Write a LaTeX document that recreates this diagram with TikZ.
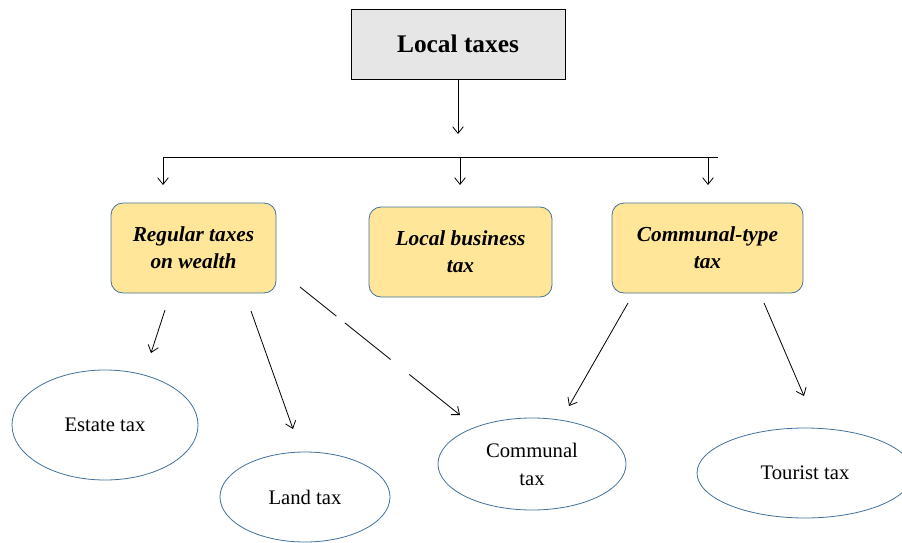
\documentclass[tikz,border=0pt]{standalone}
\usepackage{fontspec}
\setmainfont{Liberation Serif}
\usetikzlibrary{shapes.geometric,arrows.meta}
\definecolor{boxyellow}{HTML}{FFE699}
\definecolor{boxedge}{HTML}{41719C}
\definecolor{topgray}{HTML}{E6E6E6}
\tikzset{
  topbox/.style={draw=black, fill=topgray, line width=0.6pt, minimum width=214*0.75pt, minimum height=70*0.75pt, inner sep=0pt, font=\fontsize{19}{22}\selectfont\bfseries},
  catbox/.style={draw=boxedge, fill=boxyellow, line width=0.6pt, rounded corners=9pt, minimum height=90*0.75pt, inner sep=0pt, align=center, font=\fontsize{16}{20}\selectfont\bfseries\itshape},
  leaf/.style={ellipse, draw=boxedge, line width=0.6pt, inner sep=0pt, align=center, font=\fontsize{15.5}{21}\selectfont},
  arr/.style={line width=0.6pt, -{Straight Barb[length=5pt,width=8pt]}},
  plain/.style={line width=0.6pt}
}
\begin{document}
\begin{tikzpicture}[x=0.75pt,y=-0.75pt]
\useasboundingbox (0,0) rectangle (902,542);
% top
\node[topbox] (top) at (458,44) {Local taxes};
% categories
\node[catbox, minimum width=165*0.75pt] (reg) at (193.5,248) {Regular taxes\\on wealth};
\node[catbox, minimum width=183*0.75pt] (bus) at (460.5,252) {Local business\\tax};
\node[catbox, minimum width=191*0.75pt] (com) at (707.5,248) {Communal-type\\tax};
% leaves
\node[leaf, minimum width=186*0.75pt, minimum height=110*0.75pt] (estate) at (105,425) {Estate tax};
\node[leaf, minimum width=170*0.75pt, minimum height=90*0.75pt] (land) at (305,497) {Land tax};
\node[leaf, minimum width=188*0.75pt, minimum height=92*0.75pt] (comm) at (532,464) {Communal\\tax};
\node[leaf, minimum width=216*0.75pt, minimum height=90*0.75pt] (tour) at (805,473) {Tourist tax};
% coordinates
\coordinate (t1) at (458,134);
\coordinate (hl) at (163,157);
\coordinate (hm) at (460,157);
\coordinate (hr) at (708,157);
\coordinate (he) at (718,157);
\coordinate (a1) at (163,185);
\coordinate (a2) at (460,185);
\coordinate (a3) at (708,185);
\coordinate (e1s) at (165,310);
\coordinate (e1e) at (151,353);
\coordinate (l1s) at (251,311);
\coordinate (l1e) at (293,429);
\coordinate (d1s) at (300,287);
\coordinate (d1e) at (460,415);
\coordinate (c1s) at (628,303);
\coordinate (c1e) at (569,406);
\coordinate (r1s) at (764,303);
\coordinate (r1e) at (804,396);
% connectors
\draw[arr] (top.south) -- (t1);
\draw[plain] (hl) -- (he);
\draw[arr] (hl) -- (a1);
\draw[arr] (hm) -- (a2);
\draw[arr] (hr) -- (a3);
\draw[arr] (e1s) -- (e1e);
\draw[arr] (l1s) -- (l1e);
\draw[arr, dash pattern=on 35pt off 8pt on 44pt off 18pt on 60pt off 0pt] (d1s) -- (d1e);
\draw[arr] (c1s) -- (c1e);
\draw[arr] (r1s) -- (r1e);
\end{tikzpicture}
\end{document}
